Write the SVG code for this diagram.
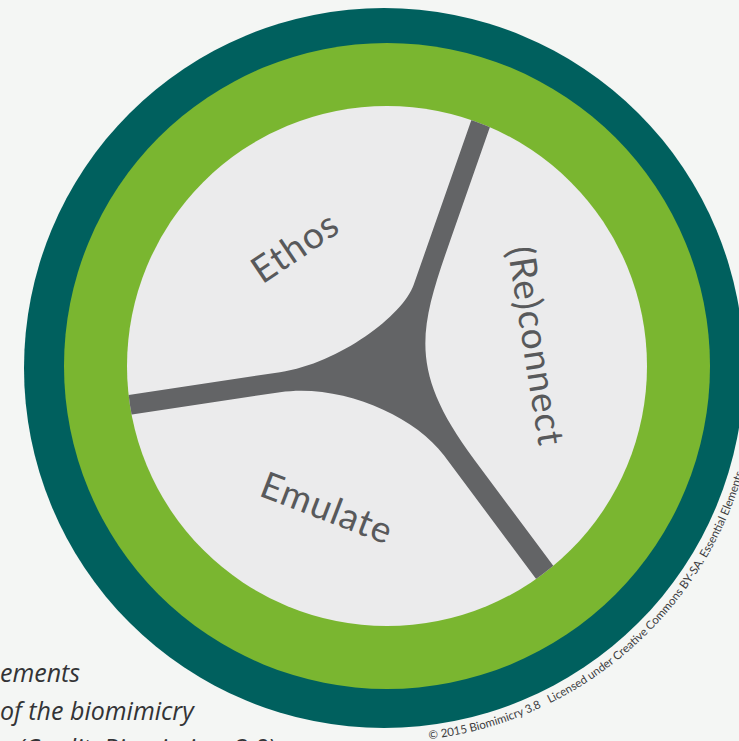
<svg xmlns="http://www.w3.org/2000/svg" width="739" height="741" viewBox="0 0 739 741">
  <style>
    .label { font-family: Lato, "Noto Sans", "Liberation Sans", sans-serif; font-size: 37px; fill: #58595b; letter-spacing: 1px; }
    .caption { font-family: "Open Sans", "Noto Sans", "Liberation Sans", sans-serif; font-style: italic; font-size: 25px; fill: #333436; }
    .credit { font-family: Lato, "Noto Sans", "Liberation Sans", sans-serif; font-size: 11.5px; fill: #3c3c3e; }
  </style>
  <defs>
    <clipPath id="innerClip">
      <circle cx="387" cy="366" r="260"/>
    </clipPath>
    <path id="creditArc" d="M 423.1,740 A 374,374 0 0 0 707.9,181"/>
  </defs>
  <rect width="739" height="741" fill="#f4f6f4"/>

  <g id="rings">
    <circle cx="384" cy="368" r="360" fill="#00605e"/>
    <circle cx="387" cy="366" r="323" fill="#7ab630"/>
    <circle cx="387" cy="366" r="260" fill="#ebebec"/>
  </g>

  <g id="connectors" clip-path="url(#innerClip)">
    <path fill="#636466" d="M 100,399.2 L 280,372.2 C 340,363.2 403.1,315 413.6,285 L 485.4,80 L 506.4,80 L 450.4,240 C 418.9,330 407.5,370 474.5,460 L 593.7,620 L 566.7,620 L 443.7,455 C 413.9,415 340,383.2 280,392.2 L 100,419.2 Z"/>
  </g>

  <g id="node-ethos">
    <text class="label" text-anchor="middle" transform="translate(295,247) rotate(-34)" dy="0.35em">Ethos</text>
  </g>
  <g id="node-reconnect">
    <text class="label" text-anchor="middle" transform="translate(536,346) rotate(81)" dy="0.35em">(Re)connect</text>
  </g>
  <g id="node-emulate">
    <text class="label" text-anchor="middle" transform="translate(327,508) rotate(21)" dy="0.35em">Emulate</text>
  </g>

  <g id="credit">
    <text class="credit"><textPath href="#creditArc" startOffset="6">© 2015 Biomimicry 3.8<tspan dx="9">Licensed under Creative Commons BY-SA. Essential Elements</tspan></textPath></text>
  </g>

  <g id="caption">
    <text class="caption" x="0" y="682">ements</text>
    <text class="caption" x="0" y="720">of the biomimicry</text>
    <text class="caption" x="275" y="757" text-anchor="end">(Credit: Biomimicry 3.8)</text>
  </g>
</svg>
